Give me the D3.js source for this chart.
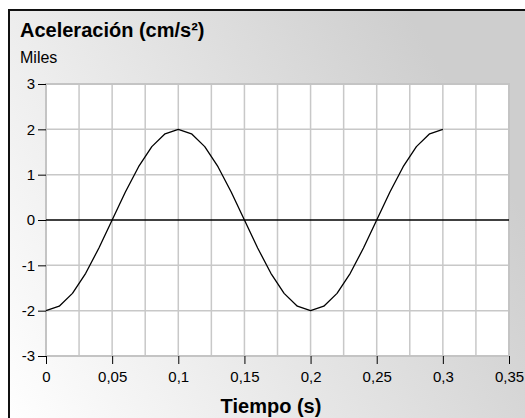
<!DOCTYPE html>
<html>
<head>
<meta charset="utf-8">
<script src="https://cdn.jsdelivr.net/npm/d3@7/dist/d3.min.js"></script>
<style>
  html, body { margin: 0; padding: 0; background: #fff; }
  svg { display: block; font-family: "Liberation Sans", Arial, sans-serif; }
</style>
</head>
<body>
<svg id="chart" width="525" height="418"></svg>
<script>
// Data (acceleration in thousands of cm/s² vs time in s)
const tiempo = [0, 0.01, 0.02, 0.03, 0.04, 0.05, 0.06, 0.07, 0.08, 0.09, 0.10,
                0.11, 0.12, 0.13, 0.14, 0.15, 0.16, 0.17, 0.18, 0.19, 0.20,
                0.21, 0.22, 0.23, 0.24, 0.25, 0.26, 0.27, 0.28, 0.29, 0.30];
const aceleracion = [-2.000, -1.902, -1.618, -1.176, -0.618, 0.000, 0.618, 1.176, 1.618, 1.902, 2.000,
                     1.902, 1.618, 1.176, 0.618, 0.000, -0.618, -1.176, -1.618, -1.902, -2.000,
                     -1.902, -1.618, -1.176, -0.618, 0.000, 0.618, 1.176, 1.618, 1.902, 2.000];
const xTicks = [0, 0.05, 0.1, 0.15, 0.2, 0.25, 0.3, 0.35];
const xTickLabels = ["0", "0,05", "0,1", "0,15", "0,2", "0,25", "0,3", "0,35"];
const xGrid = [0.025, 0.05, 0.075, 0.1, 0.125, 0.15, 0.175, 0.2, 0.225, 0.25, 0.275, 0.3, 0.325];
const yTicks = [-3, -2, -1, 0, 1, 2, 3];
const yTickLabels = ["-3", "-2", "-1", "0", "1", "2", "3"];
const title = "Aceleración (cm/s²)";
const unitLabel = "Miles";
const xTitle = "Tiempo (s)";

const svg = d3.select("#chart");
const defs = svg.append("defs");
const grad = defs.append("linearGradient").attr("id", "bg")
  .attr("x1", "0").attr("y1", "1").attr("x2", "1").attr("y2", "0.55");
grad.append("stop").attr("offset", "0").attr("stop-color", "#ffffff");
grad.append("stop").attr("offset", "1").attr("stop-color", "#cecece");

// outer frame
svg.append("rect").attr("x", 9).attr("y", 10).attr("width", 530).attr("height", 420)
  .attr("fill", "url(#bg)").attr("stroke", "#111").attr("stroke-width", 2);

const pLeft = 46, pRight = 509, pTop = 84, pBottom = 356;
const x = d3.scaleLinear().domain([0, 0.35]).range([pLeft, pRight]);
const y = d3.scaleLinear().domain([-3, 3]).range([pBottom, pTop]);

// plot area
svg.append("rect").attr("x", pLeft).attr("y", pTop)
  .attr("width", pRight - pLeft).attr("height", pBottom - pTop)
  .attr("fill", "#fff");

// grid
svg.append("g").selectAll("line").data(xGrid).join("line")
  .attr("x1", d => x(d)).attr("x2", d => x(d))
  .attr("y1", pTop).attr("y2", pBottom)
  .attr("stroke", "#c8c8c8").attr("stroke-width", 1.5);
svg.append("g").selectAll("line").data(yTicks.filter(d => d !== 0 && d !== -3 && d !== 3)).join("line")
  .attr("x1", pLeft).attr("x2", pRight)
  .attr("y1", d => y(d)).attr("y2", d => y(d))
  .attr("stroke", "#c8c8c8").attr("stroke-width", 1.5);

// plot border
svg.append("rect").attr("x", pLeft).attr("y", pTop)
  .attr("width", pRight - pLeft).attr("height", pBottom - pTop)
  .attr("fill", "none").attr("stroke", "#c4c4c4").attr("stroke-width", 2);

// zero line
svg.append("line").attr("x1", pLeft).attr("x2", pRight)
  .attr("y1", y(0)).attr("y2", y(0))
  .attr("stroke", "#000").attr("stroke-width", 1.5);

// y axis
const yAxis = d3.axisLeft(y).tickValues(yTicks)
  .tickFormat((d, i) => yTickLabels[i]).tickSize(8).tickPadding(3);
const gy = svg.append("g").attr("transform", `translate(${pLeft},0)`).call(yAxis);
gy.select(".domain").remove();
gy.selectAll(".tick line").attr("stroke", "#000");
gy.selectAll(".tick text").attr("font-size", 15).attr("fill", "#000")
  .attr("font-family", "Liberation Sans, Arial, sans-serif");

// x axis
const xAxis = d3.axisBottom(x).tickValues(xTicks)
  .tickFormat((d, i) => xTickLabels[i]).tickSize(8).tickPadding(7);
const gx = svg.append("g").attr("transform", `translate(0,${pBottom})`).call(xAxis);
gx.select(".domain").remove();
gx.selectAll(".tick line").attr("stroke", "#000");
gx.selectAll(".tick text").attr("font-size", 15).attr("fill", "#000")
  .attr("font-family", "Liberation Sans, Arial, sans-serif");

// curve
const line = d3.line().x((d, i) => x(tiempo[i])).y(d => y(d));
svg.append("path").datum(aceleracion).attr("d", line)
  .attr("fill", "none").attr("stroke", "#000").attr("stroke-width", 1.3)
  .attr("stroke-linejoin", "round");

// texts
svg.append("text").attr("x", 20).attr("y", 37).text(title)
  .attr("font-size", 20).attr("font-weight", "bold").attr("fill", "#000");
svg.append("text").attr("x", 20).attr("y", 63).text(unitLabel)
  .attr("font-size", 16).attr("fill", "#000");
svg.append("text").attr("x", 271).attr("y", 413).text(xTitle)
  .attr("text-anchor", "middle")
  .attr("font-size", 20).attr("font-weight", "bold").attr("fill", "#000");
</script>
</body>
</html>
